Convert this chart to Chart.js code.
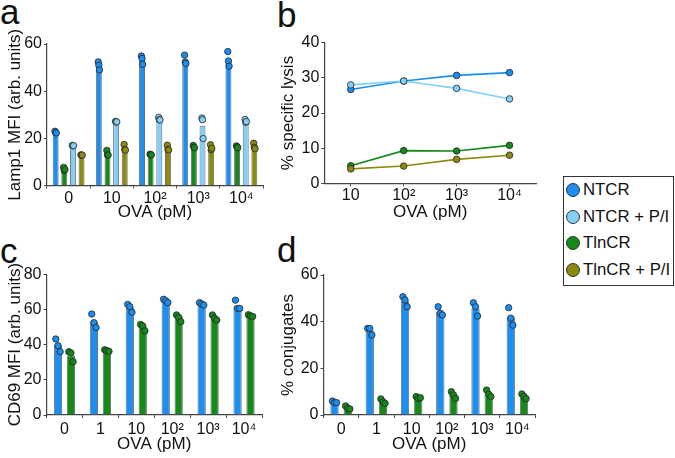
<!DOCTYPE html>
<html><head><meta charset="utf-8">
<script src="https://cdn.jsdelivr.net/npm/chart.js@4"></script>
<style>
body{margin:0;background:#fff;width:675px;height:458px;overflow:hidden;position:relative;font-family:"Liberation Sans",Arial,sans-serif;color:#111;}
canvas{position:absolute;}
.lbl{position:absolute;font-size:35px;line-height:35px;color:#111;}
#legend{position:absolute;left:563px;top:176px;width:109px;height:108px;border:1px solid #333;}
.item{position:absolute;left:0;width:109px;height:20px;font-size:16.8px;line-height:20px;}
.item span.t{position:absolute;left:19px;top:0;white-space:nowrap;}
.dot{position:absolute;left:2px;top:3px;width:14px;height:14px;border-radius:50%;border:1px solid #333;box-sizing:border-box;}
</style></head>
<body>
<div class="lbl" style="left:0px;top:-6px">a</div>
<div class="lbl" style="left:277px;top:-3px">b</div>
<div class="lbl" style="left:0px;top:233px">c</div>
<div class="lbl" style="left:277px;top:232px">d</div>
<canvas id="ca" width="275" height="225" style="left:0;top:0"></canvas>
<canvas id="pa" width="275" height="225" style="left:0;top:0"></canvas>
<canvas id="cb" width="280" height="225" style="left:270px;top:0"></canvas>
<canvas id="cc" width="275" height="233" style="left:0;top:225px"></canvas>
<canvas id="pc" width="275" height="233" style="left:0;top:225px"></canvas>
<canvas id="cd" width="280" height="233" style="left:270px;top:225px"></canvas>
<canvas id="pd" width="280" height="233" style="left:270px;top:225px"></canvas>
<div id="legend"></div>
<script>
// ---------- categories ----------
const ovaA = ['0', '10', '10²', '10³', '10⁴'];
const ovaB = ['10', '10²', '10³', '10⁴'];
const ovaCD = ['0', '1', '10', '10²', '10³', '10⁴'];
const seriesNames = ['NTCR', 'NTCR + P/I', 'TlnCR', 'TlnCR + P/I'];

// ---------- panel a: Lamp1 MFI ----------
const aNTCR = [22.6, 50.8, 53.4, 52.8, 53.0];
const aTlnCR = [7.0, 13.6, 13.1, 16.4, 16.4];
const aNTCRPI = [16.9, 27.0, 28.2, 25.3, 27.3];
const aTlnCRPI = [12.9, 15.8, 15.8, 16.1, 16.5];
const aNTCRpts = [[23.0, 22.4, 22.3], [52.4, 51.0, 49.0], [54.9, 53.9, 51.4], [55.3, 52.4, 51.7], [56.8, 52.8, 50.6]];
const aTlnCRpts = [[7.7, 6.4, 6.8], [14.9, 13.0, 12.9], [13.3, 13.0, 13.0], [17.0, 16.2, 16.0], [16.8, 16.4, 16.0]];
const aNTCRPIpts = [[17.0, 16.8, 16.9], [27.2, 26.9, 27.0], [28.9, 27.9, 27.8], [28.6, 27.9, 19.9], [28.0, 26.8, 27.1]];
const aTlnCRPIpts = [[13.0, 12.8, 12.9], [17.4, 15.3, 15.0], [17.1, 15.3, 15.1], [17.3, 15.2, 15.8], [17.9, 16.2, 15.6]];

// ---------- panel b: % specific lysis ----------
const bNTCR = [26.7, 29.1, 30.7, 31.5];
const bNTCRPI = [28.0, 29.1, 27.0, 24.0];
const bTlnCR = [5.0, 9.3, 9.2, 10.8];
const bTlnCRPI = [4.1, 4.9, 6.8, 8.0];

// ---------- panel c: CD69 MFI ----------
const cNTCR = [39.8, 53.0, 60.8, 64.6, 63.2, 62.0];
const cTlnCR = [33.8, 36.6, 50.2, 56.0, 55.0, 56.5];
const cNTCRpts = [[43.2, 39.4, 36.0], [57.4, 52.5, 49.7], [62.9, 61.6, 58.4], [65.8, 65.0, 63.9], [63.9, 63.1, 62.5], [65.3, 60.6, 60.6]];
const cTlnCRpts = [[36.0, 35.3, 30.3], [37.1, 36.6, 36.2], [51.5, 50.6, 47.8], [56.9, 55.5, 53.0], [56.9, 55.0, 54.0], [57.0, 56.4, 56.0]];

// ---------- panel d: % conjugates ----------
const dNTCR = [5.5, 36.2, 48.8, 44.3, 45.6, 41.8];
const dTlnCR = [3.1, 5.9, 7.5, 8.6, 9.2, 8.0];
const dNTCRpts = [[6.0, 5.3, 5.3], [37.1, 37.1, 34.3], [50.7, 49.3, 46.4], [46.4, 43.6, 42.9], [48.1, 46.4, 42.4], [46.0, 41.5, 38.5]];
const dTlnCRpts = [[3.9, 2.9, 2.6], [6.9, 5.7, 5.0], [7.9, 7.1, 7.4], [10.0, 8.6, 7.1], [10.7, 8.9, 7.9], [9.0, 8.0, 7.0]];

// ---------- styling ----------
const COL = {
  'NTCR': '#1b8ef2',
  'NTCR + P/I': '#84cff7',
  'TlnCR': '#15891a',
  'TlnCR + P/I': '#8c8a0e'
};
const AX = '#444';
Chart.defaults.font.family = '"Liberation Sans", Arial, sans-serif';
Chart.defaults.color = '#111';
const JIT = [-1, 0, 1];
const TICK = 16, TITLE = 17;

function xScale(labels, xh, pb, tp) {
  return {
    type: 'category', labels: labels, offset: true,
    grid: {drawOnChartArea: false, drawTicks: true, tickLength: 3, color: AX},
    border: {color: AX, width: 1.2},
    ticks: {padding: tp, font: {size: TICK}, color: '#111', maxRotation: 0, autoSkip: false},
    title: {display: true, text: 'OVA (pM)', font: {size: TITLE}, color: '#111', padding: {top: 0, bottom: pb}},
    afterFit: s => { s.height = xh; }
  };
}
function yScale(max, step, title, yw, pt) {
  return {
    min: 0, max: max,
    ticks: {stepSize: step, padding: 2, font: {size: TICK}, color: '#111'},
    grid: {drawOnChartArea: false, drawTicks: true, tickLength: 3, color: AX},
    border: {color: AX, width: 1.2},
    title: {display: true, text: title, font: {size: TITLE}, color: '#111', padding: {top: pt, bottom: 0}},
    afterFit: s => { s.width = yw; }
  };
}
const BASE = {responsive: false, animation: false, events: [],
  plugins: {legend: {display: false}, tooltip: {enabled: false}}};

function barPanel(id, pid, labels, series, o) {
  const N = series.length;
  // bars
  new Chart(document.getElementById(id), {
    type: 'bar',
    data: {labels: labels, datasets: series.map(s => ({
      label: s.name, data: s.means, backgroundColor: COL[s.name],
      borderColor: 'rgba(95,95,95,0.9)', borderWidth: 1, borderSkipped: 'start',
      categoryPercentage: o.cp, barPercentage: o.bp
    }))},
    options: Object.assign({}, BASE, {
      layout: {padding: {top: o.padTop, right: o.padRight, left: 0, bottom: 0}},
      scales: {x: xScale(labels, o.xh, o.pb, o.tp), y: yScale(o.max, o.step, o.ytitle, o.yw, o.pt)}
    })
  });
  // replicate points, overlaid with an identical plot area
  new Chart(document.getElementById(pid), {
    type: 'scatter',
    data: {datasets: series.map((s, k) => {
      const off = o.cp * ((k + 0.5) / N - 0.5);
      const pts = [];
      s.pts.forEach((reps, i) => reps.forEach((v, j) => pts.push({x: i + off + JIT[j] * o.jit, y: v})));
      return {label: s.name, data: pts, backgroundColor: COL[s.name], borderColor: '#262626',
        borderWidth: 0.8, pointRadius: o.r, clip: false};
    })},
    options: Object.assign({}, BASE, {
      layout: {padding: {top: o.padTop, right: o.padRight, left: o.yw, bottom: o.xh}},
      scales: {
        x: {type: 'linear', display: false, min: -0.5, max: labels.length - 0.5},
        y: {type: 'linear', display: false, min: 0, max: o.max}
      }
    })
  });
}

// panel a
barPanel('ca', 'pa', ovaA, [
  {name: 'NTCR', means: aNTCR, pts: aNTCRpts},
  {name: 'TlnCR', means: aTlnCR, pts: aTlnCRpts},
  {name: 'NTCR + P/I', means: aNTCRPI, pts: aNTCRPIpts},
  {name: 'TlnCR + P/I', means: aTlnCRPI, pts: aTlnCRPIpts}
], {cp: 0.80, bp: 0.69, jit: 0.015, r: 3.2, max: 60, step: 20, ytitle: 'Lamp1 MFI (arb. units)',
    yw: 47, pt: 4.8, padTop: 44, padRight: 12, xh: 39.5, pb: 2.8, tp: 0});

// panel c
barPanel('cc', 'pc', ovaCD, [
  {name: 'NTCR', means: cNTCR, pts: cNTCRpts},
  {name: 'TlnCR', means: cTlnCR, pts: cTlnCRpts}
], {cp: 0.72, bp: 0.64, jit: 0.06, r: 3.2, max: 80, step: 20, ytitle: 'CD69 MFI (arb. units)',
    yw: 46.5, pt: 4.8, padTop: 49.3, padRight: 13, xh: 43, pb: 3.3, tp: 2});

// panel d
barPanel('cd', 'pd', ovaCD, [
  {name: 'NTCR', means: dNTCR, pts: dNTCRpts},
  {name: 'TlnCR', means: dTlnCR, pts: dTlnCRpts}
], {cp: 0.75, bp: 0.63, jit: 0.06, r: 3.2, max: 60, step: 20, ytitle: '% conjugates',
    yw: 53.5, pt: 7.8, padTop: 50, padRight: 15, xh: 43, pb: 3.3, tp: 2});

// panel b (lines)
const bSeries = [
  {name: 'NTCR + P/I', data: bNTCRPI},
  {name: 'NTCR', data: bNTCR},
  {name: 'TlnCR + P/I', data: bTlnCRPI},
  {name: 'TlnCR', data: bTlnCR}
];
new Chart(document.getElementById('cb'), {
  type: 'line',
  data: {
    labels: ovaB,
    datasets: bSeries.map(s => ({
      label: s.name, data: s.data, borderColor: COL[s.name], borderWidth: 1.6,
      backgroundColor: COL[s.name], pointBackgroundColor: COL[s.name],
      pointBorderColor: '#262626', pointBorderWidth: 0.8, pointRadius: 3.3, tension: 0, fill: false
    }))
  },
  options: Object.assign({}, BASE, {
    layout: {padding: {top: 42.7, right: 14, left: 0, bottom: 0}},
    scales: {
      x: xScale(ovaB, 41.7, 2.8, 0),
      y: yScale(40, 10, '% specific lysis', 54.3, 7.8)
    }
  })
});

// legend
const leg = document.getElementById('legend');
const legY = [3, 29.7, 56.3, 83];
seriesNames.forEach((n, i) => {
  const it = document.createElement('div');
  it.className = 'item';
  it.style.top = legY[i] + 'px';
  const d = document.createElement('div');
  d.className = 'dot';
  d.style.background = COL[n];
  const t = document.createElement('span');
  t.className = 't';
  t.textContent = n;
  it.appendChild(d); it.appendChild(t);
  leg.appendChild(it);
});
</script>
</body></html>
